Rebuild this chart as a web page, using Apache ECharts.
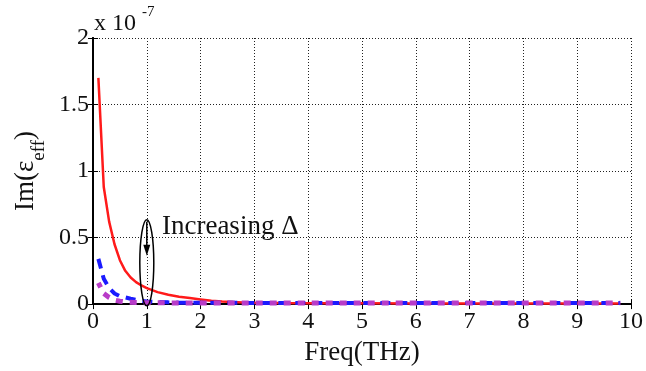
<!DOCTYPE html>
<html><head><meta charset="utf-8">
<script src="https://cdn.jsdelivr.net/npm/echarts@6/dist/echarts.min.js"></script>
<style>html,body{margin:0;padding:0;background:#fff}#c{width:646px;height:371px}</style>
</head><body><div id="c"></div>
<script>
const FONT = 'Liberation Serif';
const xTicks = [0,1,2,3,4,5,6,7,8,9,10];
const yTicks = [0,0.5,1,1.5,2];
const redFreq = [0.1,0.2,0.3,0.4,0.5,0.6,0.7,0.8,0.9,1.0,1.2,1.4,1.6,1.8,2.0,2.2,2.4,2.6,2.8,3.0,3.5,4.0,5.0,6.0,7.0,8.0,9.0,9.8];
const redVal  = [1.70,0.88,0.62,0.45,0.33,0.25,0.20,0.165,0.14,0.12,0.09,0.07,0.055,0.045,0.035,0.025,0.019,0.015,0.012,0.010,0.008,0.007,0.006,0.005,0.005,0.005,0.005,0.005];
const blueFreq = [0.1,0.2,0.3,0.4,0.5,0.6,0.7,0.8,0.9,1.0,1.2,1.4,1.6,2.0,3.0,4.0,5.0,6.0,7.0,8.0,9.0,9.8];
const blueVal  = [0.34,0.19,0.12,0.08,0.06,0.05,0.04,0.032,0.025,0.02,0.016,0.013,0.011,0.010,0.009,0.008,0.008,0.008,0.008,0.008,0.008,0.008];
const magFreq = [0.1,0.2,0.3,0.4,0.5,0.6,0.8,1.0,1.5,2.0,3.0,4.0,5.0,6.0,7.0,8.0,9.0,9.8];
const magVal  = [0.16,0.08,0.05,0.03,0.022,0.016,0.012,0.010,0.009,0.008,0.008,0.008,0.008,0.008,0.008,0.008,0.008,0.008];
const zip = (a,b)=>a.map((v,i)=>[v,b[i]]);

const chart = echarts.init(document.getElementById('c'));
const gridStyle = {show:true, lineStyle:{color:'#222', width:1, type:[1,2]}};
const axText = {fontFamily:FONT, fontSize:24, color:'#111'};
const nameText = {fontFamily:FONT, fontSize:27, color:'#111'};
chart.setOption({
  animation:false,
  grid:{left:93, right:15, top:38, bottom:65},
  xAxis:[{type:'value', min:0, max:10, interval:1,
    axisLine:{show:true, onZero:false, lineStyle:{color:'#000', width:2}},
    axisTick:{show:true, inside:true, length:5, lineStyle:{color:'#000'}},
    axisLabel:{...axText, margin:6},
    splitLine:gridStyle,
    name:'Freq(THz)', nameLocation:'middle', nameGap:32, nameTextStyle:{...nameText}},
   {type:'value', position:'top', min:0, max:10, interval:1,
    axisLine:{show:true, lineStyle:{color:'#000', width:2}},
    axisTick:{show:true, inside:true, length:5, lineStyle:{color:'#000'}},
    axisLabel:{show:false}, splitLine:{show:false}}],
  yAxis:[{type:'value', min:0, max:2, interval:0.5,
    axisLine:{show:true, onZero:false, lineStyle:{color:'#000', width:2}},
    axisTick:{show:true, inside:true, length:5, lineStyle:{color:'#000'}},
    axisLabel:{...axText, margin:4},
    splitLine:gridStyle,
    name:'Im(ε{s|eff})', nameLocation:'middle', nameRotate:90, nameGap:50,
    nameTextStyle:{...nameText, rich:{s:{fontFamily:FONT, fontSize:19, color:'#111', verticalAlign:'bottom', padding:[0,0,-9,0]}}}},
   {type:'value', position:'right', min:0, max:2, interval:0.5,
    axisLine:{show:true, lineStyle:{color:'#000', width:2}},
    axisTick:{show:true, inside:true, length:5, lineStyle:{color:'#000'}},
    axisLabel:{show:false}, splitLine:{show:false}}],
  series:[
    {type:'line', data:zip(redFreq,redVal), showSymbol:false, smooth:false,
     lineStyle:{color:'#ff1a1a', width:2.5}, z:3},
    {type:'line', data:zip(blueFreq,blueVal), showSymbol:false,
     lineStyle:{color:'#1a1aff', width:4, type:[10,7]}, z:4},
    {type:'line', data:zip(magFreq,magVal), showSymbol:false,
     lineStyle:{color:'#b83cc8', width:5, type:[7,7], dashOffset:2}, z:5}
  ]
});

const c = chart.convertToPixel({gridIndex:0},[1,0.31]);
const t = chart.convertToPixel({gridIndex:0},[1.3,0.58]);
chart.setOption({graphic:[
  {type:'text', left:94, top:12, style:{text:'x 10', fontFamily:FONT, fontSize:24, fill:'#111'}},
  {type:'text', left:142, top:5, style:{text:'-7', fontFamily:FONT, fontSize:15, fill:'#111'}},
  {type:'ellipse', shape:{cx:c[0], cy:c[1], rx:7, ry:43}, style:{fill:'none', stroke:'#000', lineWidth:1.5}, z:10},
  {type:'line', shape:{x1:c[0], y1:c[1]-41, x2:c[0], y2:c[1]-12}, style:{stroke:'#000', lineWidth:1.5}, z:10},
  {type:'polygon', shape:{points:[[c[0]-3.5,c[1]-18],[c[0]+3.5,c[1]-18],[c[0],c[1]-7]]}, style:{fill:'#000'}, z:10},
  {type:'text', x:t[0]-1, y:t[1], style:{text:'Increasing Δ', fontFamily:FONT, fontSize:27, fill:'#111', verticalAlign:'middle'}, z:10}
]});
</script></body></html>
